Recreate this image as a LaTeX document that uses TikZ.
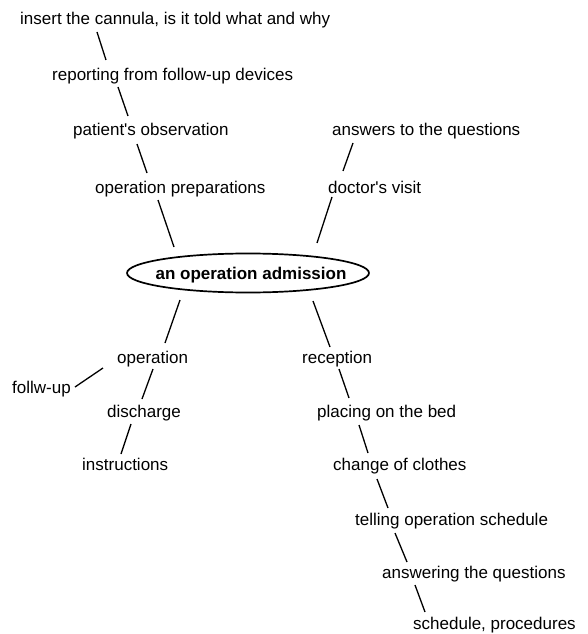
\documentclass[tikz,border=0pt]{standalone}
\usepackage{fontspec}
\setmainfont{Liberation Sans}
\usetikzlibrary{calc}
\tikzset{
  lbl/.style={anchor=base west, inner sep=0pt, font=\fontsize{17bp}{20bp}\selectfont},
  hubtext/.style={anchor=base, inner sep=0pt, font=\fontsize{17bp}{20bp}\selectfont\bfseries},
  hubring/.style={line width=1.7bp},
  link/.style={line width=1.3bp}
}
\begin{document}
\begin{tikzpicture}[x=1bp,y=-1bp]
\useasboundingbox (0,0) rectangle (588,634);
\node[hubtext] (ell) at (251,279) {an operation admission};
\coordinate (hc) at ($(ell.base)+(-3,-6)$);
\draw[hubring] (hc) ellipse [x radius=121bp, y radius=19.5bp];
\node[lbl] (ins) at (20,25) {insert the cannula, is it told what and why};
\node[lbl] (rep) at (52,81) {reporting from follow-up devices};
\node[lbl] (pat) at (73,136) {patient\textquotesingle s observation};
\node[lbl] (prep) at (95,193) {operation preparations};
\node[lbl] (ans) at (332,136) {answers to the questions};
\node[lbl] (doc) at (328,193) {doctor\textquotesingle s visit};
\node[lbl] (op) at (117,363) {operation};
\node[lbl] (fol) at (12,393) {follw-up};
\node[lbl] (dis) at (107,417) {discharge};
\node[lbl] (instr) at (82,470) {instructions};
\node[lbl] (rec) at (302,363) {reception};
\node[lbl] (pla) at (317,417) {placing on the bed};
\node[lbl] (cha) at (333,470) {change of clothes};
\node[lbl] (tel) at (355,525) {telling operation schedule};
\node[lbl] (answ) at (382,578) {answering the questions};
\node[lbl] (sch) at (413,629) {schedule, procedures};

\draw[link] ($(ins.base west)+(77,7)$) -- ($(rep.base west)+(54,-21)$);
\draw[link] ($(rep.base west)+(66,6)$) -- ($(pat.base west)+(55,-20)$);
\draw[link] ($(pat.base west)+(64,8)$) -- ($(prep.base west)+(52,-20)$);
\draw[link] ($(prep.base west)+(63,7)$) -- ($(hc)+(-74,-26)$);
\draw[link] ($(ans.base west)+(21,7)$) -- ($(doc.base west)+(15,-22)$);
\draw[link] ($(doc.base west)+(4,4)$) -- ($(hc)+(69,-30)$);
\draw[link] ($(hc)+(-68,27)$) -- ($(op.base west)+(48,-20)$);
\draw[link] ($(hc)+(65,28)$) -- ($(rec.base west)+(28,-16)$);
\draw[link] ($(op.base west)+(-14,5)$) -- ($(fol.base west)+(63,-6)$);
\draw[link] ($(op.base west)+(36,6)$) -- ($(dis.base west)+(35,-18)$);
\draw[link] ($(dis.base west)+(24,7)$) -- ($(instr.base west)+(39,-16)$);
\draw[link] ($(rec.base west)+(37,6)$) -- ($(pla.base west)+(32,-19)$);
\draw[link] ($(pla.base west)+(42,8)$) -- ($(cha.base west)+(35,-17)$);
\draw[link] ($(cha.base west)+(44,9)$) -- ($(tel.base west)+(33,-17)$);
\draw[link] ($(tel.base west)+(40,8)$) -- ($(answ.base west)+(25,-16)$);
\draw[link] ($(answ.base west)+(33,7)$) -- ($(sch.base west)+(12,-17)$);
\end{tikzpicture}
\end{document}
